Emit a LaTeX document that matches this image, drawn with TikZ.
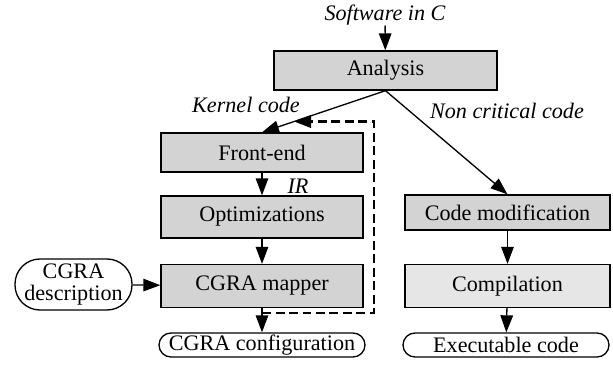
\documentclass[tikz,border=0pt]{standalone}
\usepackage{fontspec}
\setmainfont{Liberation Serif}
\usetikzlibrary{arrows.meta,calc}

\definecolor{boxgray}{RGB}{211,211,211}
\definecolor{lightgray}{RGB}{230,230,230}

\newcommand{\flowfont}{\fontsize{12.6}{13}\selectfont}

\tikzset{
	stage/.style={draw,line width=0.75pt,fill=boxgray,minimum width=4.04cm,minimum height=0.8cm,inner sep=0pt},
	lightstage/.style={stage,fill=lightgray},
	terminal/.style={draw,line width=0.75pt,rounded corners=0.24cm,minimum height=0.48cm,inner sep=1pt},
	flow/.style={line width=0.75pt,-{Triangle[length=0.34cm,width=0.25cm]}},
	tag/.style={font=\flowfont\itshape,inner sep=0pt}
}

\begin{document}
\begin{tikzpicture}[font=\flowfont]
	\useasboundingbox (0,0) rectangle (12.26,7.32);
	% left branch
	\node[tag](sw) at (7.70,7.02) {Software in C};
	\node[stage,minimum width=4.46cm,minimum height=0.78cm](analysis) at (7.71,5.91) {Analysis};
	\node[stage,minimum height=0.78cm](frontend) at (5.24,4.27) {Front-end};
	\node[stage,minimum height=0.84cm](optim) at (5.24,2.98) {Optimizations};
	\node[stage,minimum height=0.86cm](mapper) at (5.24,1.60) {CGRA mapper};
	\node[terminal,minimum width=4.12cm](config) at (5.24,0.42) {CGRA configuration};
	\node[terminal,rounded corners=0.5cm,minimum width=2.34cm,minimum height=1.02cm,align=center,inner sep=0pt](desc) at (1.47,1.63) {CGRA\\description};
	% right branch
	\node[stage,minimum width=4.1cm,minimum height=0.7cm](codemod) at (10.15,3.07) {Code modification};
	\node[lightstage,minimum width=4.1cm,minimum height=0.86cm](compil) at (10.15,1.60) {Compilation};
	\node[terminal,minimum width=4.12cm](exec) at (10.12,0.42) {Executable code};
	% labels
	\node[tag](kernel) at (4.92,5.22) {Kernel code};
	\node[tag](noncrit) at (10.14,5.10) {Non critical code};
	\node[tag](ir) at (5.96,3.60) {IR};
	% connectors
	\draw[flow] (sw) -- (analysis);
	\draw[flow] (analysis.south) -- (frontend.north);
	\draw[flow] (analysis.south) -- (codemod.north);
	\draw[flow] (frontend) -- (optim);
	\draw[flow] (optim) -- (mapper);
	\draw[flow] (desc) -- (mapper);
	\draw[flow] (mapper) -- (config);
	\draw[flow] (codemod) -- (compil);
	\draw[flow] (compil) -- (exec);
	% feedback loop
	\coordinate (loopin) at ($(mapper.south)+(0,-0.1)$);
	\coordinate (loopout) at ($(analysis.south)!0.74!(frontend.north)$);
	\draw[flow,line width=1.3pt,dash pattern=on 0.18cm off 0.09cm] (loopin) -- ++(2.24,0) |- (loopout);
\end{tikzpicture}
\end{document}
